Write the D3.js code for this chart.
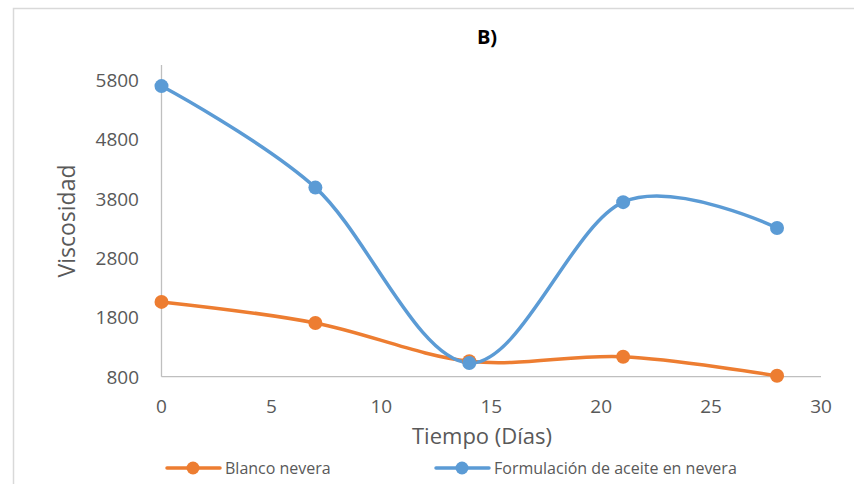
<!DOCTYPE html>
<html>
<head>
<meta charset="utf-8">
<script src="https://cdn.jsdelivr.net/npm/d3@7"></script>
<style>
  body { margin: 0; background: #fff; }
  text { font-family: "Open Sans", "Liberation Sans", sans-serif; }
</style>
</head>
<body>
<div id="chart"></div>
<script>
// data
var days = [0, 7, 14, 21, 28];
var blanco = [2060, 1705, 1060, 1135, 815];
var aceite = [5695, 3985, 1030, 3740, 3305];
var seriesNames = ["Blanco nevera", "Formulación de aceite en nevera"];
var xTicks = [0, 5, 10, 15, 20, 25, 30];
var yTicks = [800, 1800, 2800, 3800, 4800, 5800];

var W = 854, H = 484;
var colors = ["#ED7D31", "#5B9BD5"];

var svg = d3.select("#chart").append("svg")
  .attr("width", W)
  .attr("height", H);

// outer chart border
svg.append("rect")
  .attr("x", 13.5).attr("y", 8.5)
  .attr("width", W).attr("height", H)
  .attr("fill", "none")
  .attr("stroke", "#D9D9D9")
  .attr("stroke-width", 1.5);

var x = d3.scaleLinear().domain([0, 30]).range([161.5, 821]);
var y = d3.scaleLinear().domain([800, 6050]).range([376.7, 65]);

// axes
svg.append("line")
  .attr("x1", x(0)).attr("x2", x(30))
  .attr("y1", y(800)).attr("y2", y(800))
  .attr("stroke", "#BFBFBF").attr("stroke-width", 1.3);
svg.append("line")
  .attr("x1", x(0)).attr("x2", x(0))
  .attr("y1", y(800)).attr("y2", y(6050))
  .attr("stroke", "#BFBFBF").attr("stroke-width", 1.3);

svg.selectAll(".xt").data(xTicks).enter().append("text")
  .attr("class", "xt")
  .attr("x", function(d) { return x(d); })
  .attr("y", 413)
  .attr("text-anchor", "middle")
  .attr("fill", "#595959")
  .style("font-size", "19px")
  .text(function(d) { return d; });

svg.selectAll(".yt").data(yTicks).enter().append("text")
  .attr("class", "yt")
  .attr("x", 139)
  .attr("y", function(d) { return y(d) + 7; })
  .attr("text-anchor", "end")
  .attr("fill", "#595959")
  .style("font-size", "19px")
  .text(function(d) { return d; });

// titles
svg.append("text")
  .attr("x", 487).attr("y", 44)
  .attr("text-anchor", "middle")
  .attr("fill", "#000")
  .style("font-size", "20px")
  .style("font-weight", "bold")
  .text("B)");

svg.append("text")
  .attr("x", 482).attr("y", 444)
  .attr("text-anchor", "middle")
  .attr("fill", "#595959")
  .style("font-size", "22px")
  .text("Tiempo (Días)");

svg.append("text")
  .attr("transform", "translate(75,221) rotate(-90)")
  .attr("text-anchor", "middle")
  .attr("fill", "#595959")
  .style("font-size", "23px")
  .text("Viscosidad");

// series
var allSeries = [blanco, aceite];
var line = d3.line()
  .x(function(d, i) { return x(days[i]); })
  .y(function(d) { return y(d); })
  .curve(d3.curveCatmullRom.alpha(0));

allSeries.forEach(function(vals, s) {
  svg.append("path")
    .attr("d", line(vals))
    .attr("fill", "none")
    .attr("stroke", colors[s])
    .attr("stroke-width", 3.5)
    .attr("stroke-linecap", "round");
});
allSeries.forEach(function(vals, s) {
  svg.selectAll(".pt" + s).data(vals).enter().append("circle")
    .attr("class", "pt" + s)
    .attr("cx", function(d, i) { return x(days[i]); })
    .attr("cy", function(d) { return y(d); })
    .attr("r", 7)
    .attr("fill", colors[s]);
});

// legend
var legendX = [193, 462];
seriesNames.forEach(function(name, s) {
  var g = svg.append("g").attr("transform", "translate(" + legendX[s] + ",468)");
  g.append("line")
    .attr("x1", -26).attr("x2", 27)
    .attr("stroke", colors[s]).attr("stroke-width", 3.5)
    .attr("stroke-linecap", "round");
  g.append("circle").attr("r", 6.5).attr("fill", colors[s]);
  g.append("text")
    .attr("x", 32).attr("y", 6)
    .attr("fill", "#595959")
    .style("font-size", "16px")
    .text(name);
});
</script>
</body>
</html>
